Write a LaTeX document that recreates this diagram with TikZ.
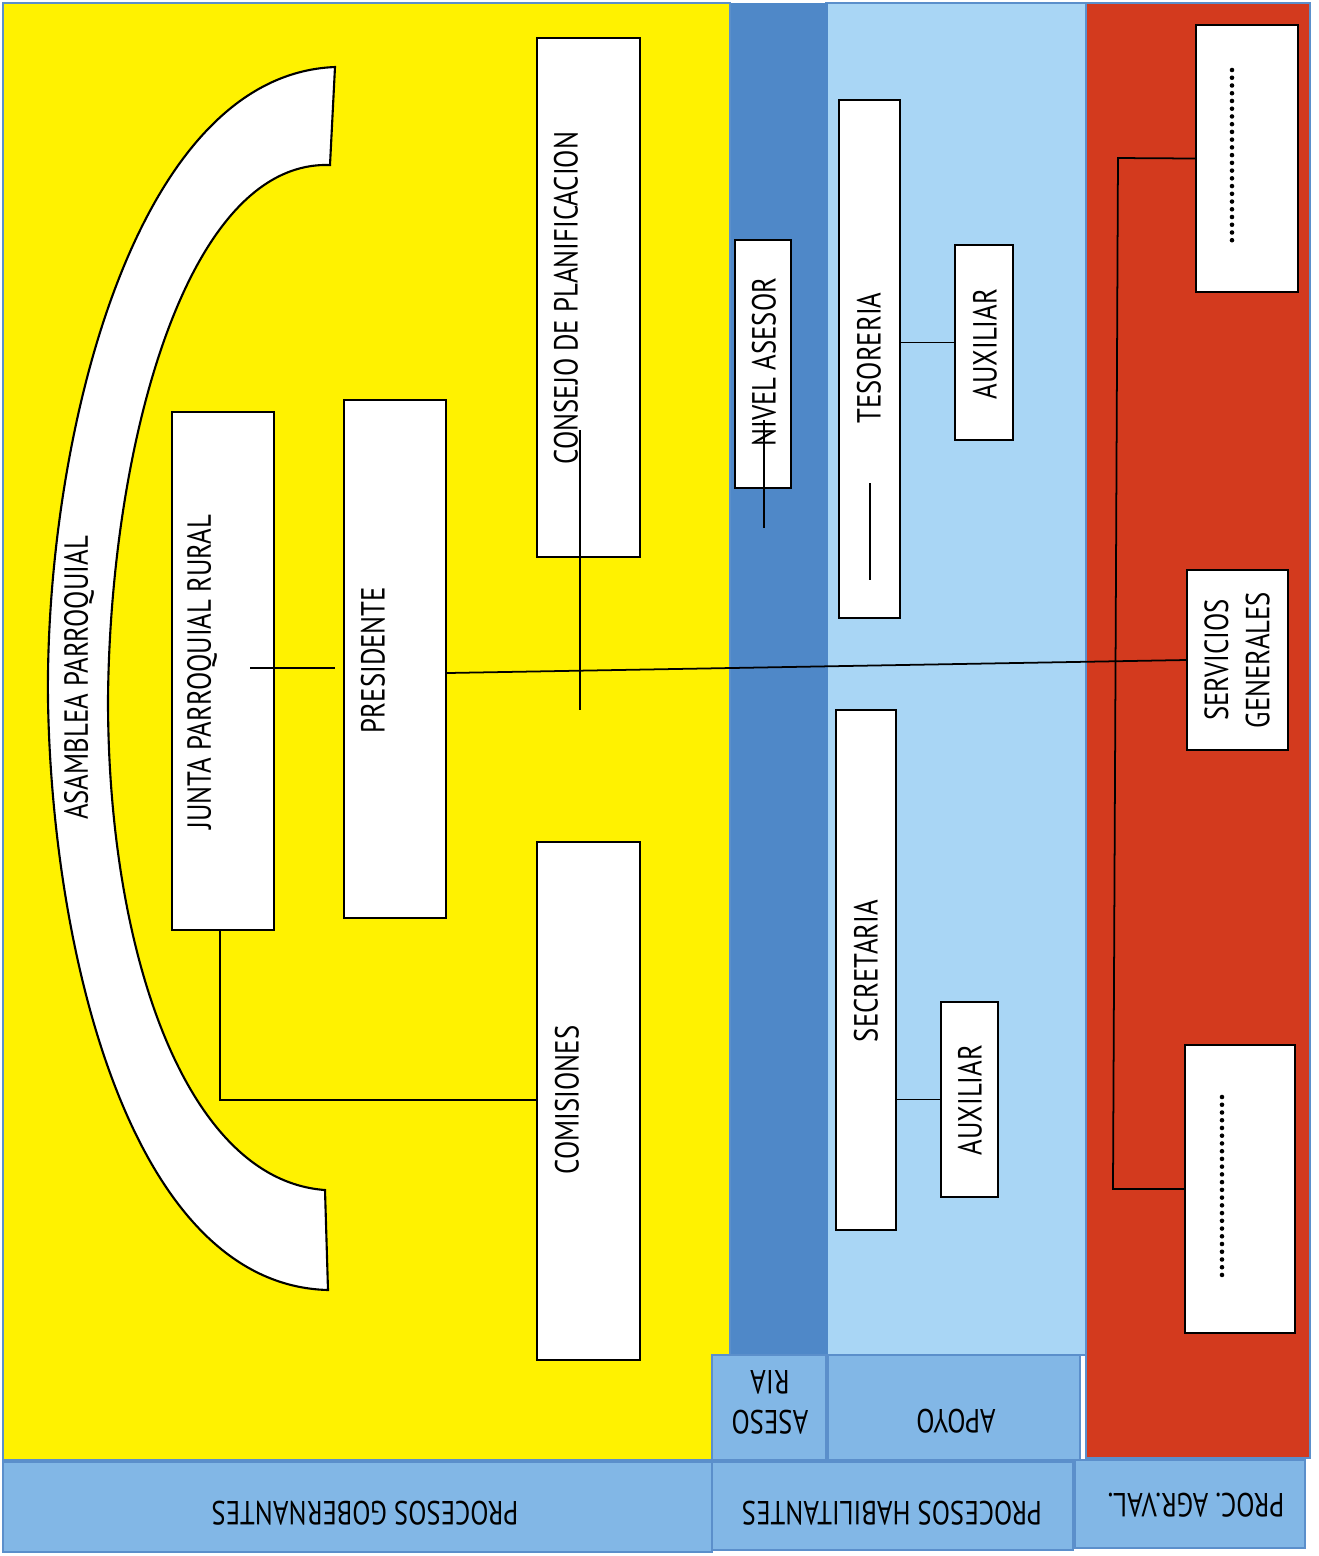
\documentclass[tikz,border=0pt]{standalone}
\usepackage{fontspec}
\newfontfamily\lf[FakeStretch=0.8]{PT Sans}
\usetikzlibrary{calc,fit}
\definecolor{yel}{HTML}{FFF200}
\definecolor{dblue}{HTML}{4F88C8}
\definecolor{lblue}{HTML}{A9D6F5}
\definecolor{redf}{HTML}{D33A1E}
\definecolor{tabblue}{HTML}{82B7E6}
\definecolor{edgeb}{HTML}{5B8FCB}
\begin{document}
\begin{tikzpicture}[x=0.01cm,y=-0.01cm,
  region/.style={draw=edgeb, line width=0.5pt},
  wbox/.style={draw=black, fill=white, line width=0.6pt, inner sep=0pt, rectangle},
  lbl/.style={font=\lf\fontsize{9.5}{11.4}\selectfont, inner sep=0pt, align=center, text=black},
  conn/.style={draw=black, line width=0.5pt},
  dots/.style={draw=black, line width=1.3pt, line cap=round, dash pattern=on 0pt off 2.2pt}]
\useasboundingbox (0,0) rectangle (1319,1556);
% background regions
\path[region, fill=lblue] (826,3) rectangle (1090,1355);
\path[region, fill=dblue, draw=none] (730,3) rectangle (828,1355);
\path[region, fill=yel] (3,3) rectangle (730,1460);
\path[region, fill=redf] (1086,3) rectangle (1310,1458);
% bottom tabs
\node[region, fill=tabblue, fit={(712,1355) (826,1460)}, inner sep=0pt] (tabAses) {};
\node[region, fill=tabblue, fit={(828,1355) (1080,1460)}, inner sep=0pt] (tabApoyo) {};
\node[region, fill=tabblue, fit={(3,1462) (712,1552)}, inner sep=0pt] (tabGob) {};
\node[region, fill=tabblue, fit={(712,1462) (1073,1550)}, inner sep=0pt] (tabHab) {};
\node[region, fill=tabblue, fit={(1075,1460) (1305,1548)}, inner sep=0pt] (tabAgr) {};
\node[lbl, rotate=180] (tAses) at (770,1402) {ASESO\\RIA};
\node[lbl, rotate=180] (tApoyo) at (956,1421) {APOYO};
\node[lbl, rotate=180] (tGob) at (365,1513) {PROCESOS GOBERNANTES};
\node[lbl, rotate=180] (tHab) at (892,1513) {PROCESOS HABILITANTES};
\node[lbl, rotate=180] (tAgr) at (1196,1505) {PROC. AGR.VAL.};
% asamblea arc
\path[draw=black, fill=white, line width=0.6pt]
  (335,67) .. controls (130,75) and (45,450) .. (48,700)
  .. controls (52,950) and (130,1285) .. (328,1290)
  -- (325,1190) .. controls (185,1180) and (108,950) .. (108,700)
  .. controls (110,450) and (185,160) .. (330,165) -- cycle;
\node[lbl, rotate=90] (tAsam) at (79,678) {ASAMBLEA PARROQUIAL};
% boxes
\node[wbox, fit={(537,38) (640,557)}] (consejo) {};
\node[lbl, rotate=90] (tConsejo) at (566,298) {CONSEJO DE PLANIFICACION};
\node[wbox, fit={(172,412) (274,930)}] (junta) {};
\node[lbl, rotate=90] (tJunta) at (202,672) {JUNTA PARROQUIAL RURAL};
\node[wbox, fit={(344,400) (446,918)}] (pres) {};
\node[lbl, rotate=90] (tPres) at (373,660) {PRESIDENTE};
\node[wbox, fit={(537,842) (640,1360)}] (comis) {};
\node[lbl, rotate=90] (tComis) at (567,1100) {COMISIONES};
\node[wbox, fit={(735,240) (791,488)}] (nivel) {};
\node[lbl, rotate=90] (tNivel) at (764,362) {NIVEL ASESOR};
\node[wbox, fit={(839,100) (900,618)}] (teso) {};
\node[lbl, rotate=90] (tTeso) at (869,358) {TESORERIA};
\node[wbox, fit={(955,245) (1013,440)}] (aux1) {};
\node[lbl, rotate=90] (tAux1) at (985,344) {AUXILIAR};
\node[wbox, fit={(836,710) (896,1230)}] (secre) {};
\node[lbl, rotate=90] (tSecre) at (866,971) {SECRETARIA};
\node[wbox, fit={(941,1002) (998,1197)}] (aux2) {};
\node[lbl, rotate=90] (tAux2) at (970,1100) {AUXILIAR};
\node[wbox, fit={(1196,25) (1298,292)}] (rtop) {};
\node[wbox, fit={(1187,570) (1288,750)}] (serv) {};
\node[lbl, rotate=90, font=\lf\fontsize{9.5}{11.7}\selectfont] (tServ) at (1237,660) {SERVICIOS\\GENERALES};
\node[wbox, fit={(1185,1045) (1295,1333)}] (rbot) {};
% dotted placeholders
\coordinate (d1a) at (1232,70); \coordinate (d1b) at (1232,245);
\coordinate (d2a) at (1222,1097); \coordinate (d2b) at (1222,1280);
\draw[dots] (d1a) -- (d1b);
\draw[dots] (d2a) -- (d2b);
% connectors
\coordinate (j1) at (250,668); \coordinate (j2) at (335,668);
\draw[conn] (j1) -- (j2);
\draw[conn] ($(pres.east)+(0,14)$) -- (serv.west);
\coordinate (c1) at (580,430); \coordinate (c2) at (580,710);
\draw[conn] (c1) -- (c2);
\coordinate (jc) at (220,1100);
\draw[conn] (junta.south -| jc) -- (jc) -- (comis.west |- jc);
\coordinate (n1) at (764,420); \coordinate (n2) at (764,528);
\draw[conn] (n1) -- (n2);
\coordinate (t1) at (870,483); \coordinate (t2) at (870,580);
\draw[conn] (t1) -- (t2);
\draw[conn] (teso.east |- aux1.west) -- (aux1.west);
\draw[conn] (secre.east |- aux2.west) -- (aux2.west);
\coordinate (rv1) at (1118,158); \coordinate (rv2) at (1113,1189);
\draw[conn] (rtop.west) -- (rv1) -- (rv2) -- (rbot.west);
\end{tikzpicture}
\end{document}
